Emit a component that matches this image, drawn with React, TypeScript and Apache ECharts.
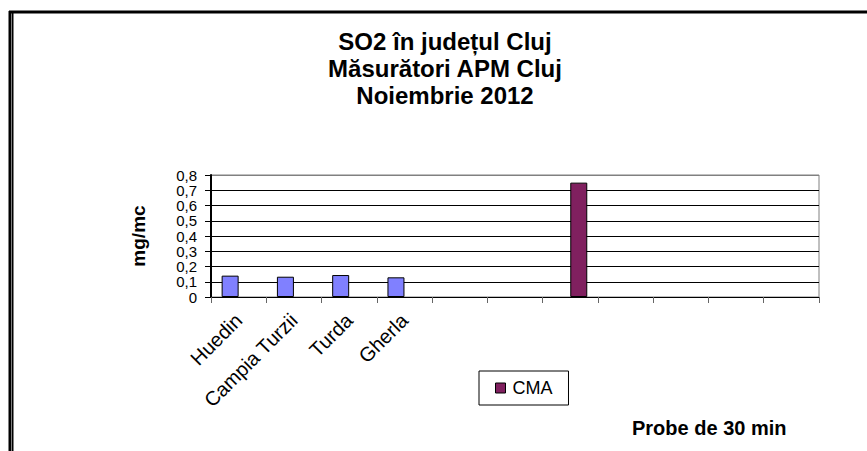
import React, { useEffect, useRef } from "react";
import * as echarts from "echarts";

const categories = ["Huedin", "Campia Turzii", "Turda", "Gherla", "", "", "", "", "", "", ""];
const so2Values = [0.14, 0.133, 0.144, 0.129, null, null, null, null, null, null, null];
const cmaValues = [null, null, null, null, null, null, 0.75, null, null, null, null];
const titleLines = ["SO2 în județul Cluj", "Măsurători APM Cluj", "Noiembrie 2012"];
const yAxisName = "mg/mc";
const footNote = "Probe de 30 min";

const FONT = "'Liberation Sans', Arial, sans-serif";

export default function App() {
  const ref = useRef<HTMLDivElement>(null);
  useEffect(() => {
    if (!ref.current) return;
    const chart = echarts.init(ref.current, undefined, { renderer: "svg" });
    const splitColors = ["#000", "#000", "#000", "#000", "#000", "#000", "#000", "#000", "#808080"];
    chart.setOption({
      animation: false,
      backgroundColor: "#fff",
      textStyle: { fontFamily: FONT },
      title: {
        text: titleLines.join("\n"),
        left: 440,
        top: 23,
        textAlign: "center",
        textStyle: { fontFamily: FONT, fontSize: 24, fontWeight: "bold", color: "#000", lineHeight: 27 },
      },
      legend: {
        data: ["CMA"],
        left: 479,
        top: 371,
        orient: "horizontal",
        icon: "rect",
        itemWidth: 10,
        itemHeight: 10,
        padding: [8, 16, 8, 16],
        borderColor: "#000",
        borderWidth: 1,
        itemStyle: { borderColor: "#000", borderWidth: 1 },
        textStyle: { fontFamily: FONT, fontSize: 18, color: "#000", padding: [0, 0, 0, 2] },
      },
      grid: {
        left: 211,
        right: 48,
        top: 175,
        bottom: 154,
        show: true,
        borderColor: "#808080",
        borderWidth: 1,
        backgroundColor: "transparent",
      },
      xAxis: {
        type: "category",
        data: categories,
        axisLine: { lineStyle: { color: "#000", width: 1 } },
        axisTick: { show: true, length: 6, lineStyle: { color: "#666" }, alignWithLabel: false },
        axisLabel: {
          rotate: 45,
          margin: 20,
          interval: 0,
          color: "#000",
          fontSize: 20,
          fontFamily: FONT,
        },
      },
      yAxis: {
        type: "value",
        min: 0,
        max: 0.8,
        interval: 0.1,
        name: yAxisName,
        nameLocation: "middle",
        nameGap: 63,
        nameTextStyle: { fontFamily: FONT, fontSize: 19, fontWeight: "bold", color: "#000" },
        axisLine: { show: true, lineStyle: { color: "#000", width: 2 } },
        axisTick: { show: true, length: 6, lineStyle: { color: "#000" } },
        axisLabel: {
          color: "#000",
          fontSize: 15,
          fontFamily: FONT,
          margin: 14,
          showMinLabel: true,
          showMaxLabel: true,
          hideOverlap: false,
          formatter: (v: number) => (v === 0 ? "0" : v.toFixed(1).replace(".", ",")),
        },
        splitLine: { show: true, lineStyle: { color: splitColors, width: 1 } },
      },
      series: [
        {
          name: "",
          type: "bar",
          data: so2Values,
          barWidth: 17,
          barGap: "0%",
          itemStyle: { color: "#8080FF", borderColor: "#000", borderWidth: 1 },
        },
        {
          name: "CMA",
          type: "bar",
          data: cmaValues,
          barWidth: 17,
          barGap: "0%",
          itemStyle: { color: "#80205F", borderColor: "#000", borderWidth: 1 },
        },
      ],
      graphic: [
        { type: "line", shape: { x1: 9, y1: 12, x2: 867, y2: 12 }, style: { stroke: "#000", lineWidth: 3 } },
        { type: "line", shape: { x1: 10, y1: 11, x2: 10, y2: 451 }, style: { stroke: "#000", lineWidth: 3 } },
        { type: "line", shape: { x1: 12.75, y1: 13, x2: 12.75, y2: 451 }, style: { stroke: "#000", lineWidth: 1.5 } },
        {
          type: "text",
          x: 632,
          y: 428,
          style: {
            text: footNote,
            fontFamily: FONT,
            fontSize: 20,
            fontWeight: "bold",
            fill: "#000",
            textVerticalAlign: "middle",
            verticalAlign: "middle",
          },
        },
      ],
    });
    return () => chart.dispose();
  }, []);
  return <div ref={ref} style={{ width: 867, height: 451, position: "absolute", left: 0, top: 0 }} />;
}
